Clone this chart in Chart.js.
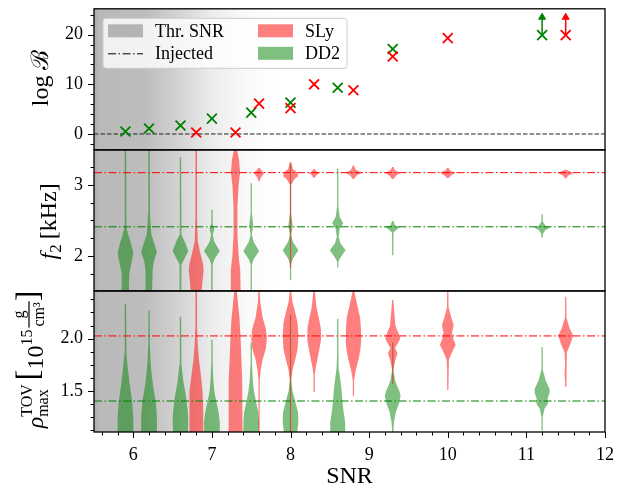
<!DOCTYPE html>
<html>
<head>
<meta charset="utf-8">
<script src="https://cdn.jsdelivr.net/npm/chart.js@4.4.1/dist/chart.umd.min.js"></script>
<style>
  html, body { margin: 0; padding: 0; background: #fff; }
  #wrap { width: 624px; height: 489px; }
</style>
</head>
<body>
<div id="wrap"><canvas id="snrChart" width="624" height="489"></canvas></div>
<script>
// ---- values ----
const snrSLy = [6.8, 7.3, 7.6, 8.0, 8.3, 8.8, 9.3, 10.0, 11.5];
const logBSLy = [0.3, 0.3, 6.1, 5.2, 10.0, 8.8, 15.6, 19.3, 19.9];
const snrDD2 = [5.9, 6.2, 6.6, 7.0, 7.5, 8.0, 8.6, 9.3, 11.2];
const logBDD2 = [0.5, 1.1, 1.7, 3.1, 4.3, 6.3, 9.3, 17.1, 19.9];

// runs where log B is only a lower bound (arrow up)
const limitSnr = [11.2, 11.5];
const limitFrom = [19.9, 19.9];
const limitTo = [23.5, 23.5];

// injected values [SLy, DD2]
const injectedF2 = [3.17, 2.41];
const injectedRho = [2.026, 1.404];

// posterior violins: value samples along the axis + relative half width
const f2SLy = [
  { snr: 6.8, v: [3.49, 2.5, 2.2, 2.05, 1.9, 1.8, 1.65, 1.51], w: [0.1, 0.12, 0.2, 0.5, 0.85, 0.95, 0.8, 0.7] },
  { snr: 7.3, v: [3.49, 3.35, 3.17, 3.0, 2.7, 2.3, 2.0, 1.8, 1.51], w: [0.2, 0.45, 0.58, 0.4, 0.25, 0.25, 0.4, 0.6, 0.65] },
  { snr: 7.6, v: [3.24, 3.2, 3.17, 3.14, 3.1, 3.05], w: [0.08, 0.3, 0.7, 0.5, 0.2, 0.08] },
  { snr: 8.0, v: [3.32, 3.22, 3.17, 3.12, 3.08, 3.0, 2.5, 2.0, 1.83], w: [0.08, 0.3, 0.9, 0.95, 0.5, 0.08, 0.08, 0.08, 0.08] },
  { snr: 8.3, v: [3.22, 3.19, 3.17, 3.14, 3.1], w: [0.08, 0.25, 0.75, 0.35, 0.08] },
  { snr: 8.8, v: [3.27, 3.21, 3.17, 3.13, 3.08], w: [0.08, 0.3, 1.0, 0.4, 0.08] },
  { snr: 9.3, v: [3.25, 3.2, 3.17, 3.13, 3.08], w: [0.08, 0.3, 1.0, 0.45, 0.08] },
  { snr: 10.0, v: [3.24, 3.2, 3.17, 3.13, 3.09], w: [0.08, 0.3, 1.0, 0.4, 0.08] },
  { snr: 11.5, v: [3.21, 3.18, 3.16, 3.13, 3.09], w: [0.08, 0.7, 0.9, 0.35, 0.08] }
];
const f2DD2 = [
  { snr: 5.9, v: [3.49, 2.6, 2.4, 2.3, 2.18, 2.04, 1.9, 1.76, 1.62, 1.51], w: [0.09, 0.1, 0.15, 0.35, 0.7, 1.0, 0.75, 0.5, 0.45, 0.45] },
  { snr: 6.2, v: [3.49, 2.6, 2.45, 2.3, 2.2, 2.06, 1.92, 1.8, 1.51], w: [0.09, 0.12, 0.2, 0.3, 0.6, 1.0, 0.6, 0.45, 0.4] },
  { snr: 6.6, v: [3.39, 2.6, 2.3, 2.2, 2.07, 1.95, 1.88, 1.51], w: [0.08, 0.1, 0.15, 0.55, 1.0, 0.45, 0.12, 0.1] },
  { snr: 7.0, v: [2.65, 2.45, 2.38, 2.3, 2.2, 2.07, 1.95, 1.88, 1.51], w: [0.08, 0.1, 0.3, 0.1, 0.3, 1.0, 0.3, 0.1, 0.08] },
  { snr: 7.5, v: [3.02, 2.6, 2.44, 2.3, 2.2, 2.07, 1.95, 1.88, 1.51], w: [0.08, 0.08, 0.25, 0.08, 0.3, 1.0, 0.3, 0.08, 0.08] },
  { snr: 8.0, v: [3.3, 2.6, 2.42, 2.3, 2.2, 2.08, 1.96, 1.88, 1.66], w: [0.08, 0.08, 0.28, 0.08, 0.3, 1.0, 0.3, 0.08, 0.08] },
  { snr: 8.6, v: [3.23, 2.7, 2.55, 2.46, 2.38, 2.27, 2.18, 2.08, 1.98, 1.92, 1.84], w: [0.08, 0.08, 0.25, 0.7, 0.25, 0.12, 0.35, 1.0, 0.35, 0.08, 0.08] },
  { snr: 9.3, v: [2.49, 2.43, 2.41, 2.38, 2.33, 2.2, 2.01], w: [0.08, 0.3, 1.0, 0.6, 0.1, 0.08, 0.08] },
  { snr: 11.2, v: [2.59, 2.48, 2.43, 2.4, 2.36, 2.31, 2.26], w: [0.08, 0.1, 0.4, 1.0, 0.4, 0.1, 0.08] }
];
const rhoSLy = [
  { snr: 6.8, v: [2.456, 2.1, 1.95, 1.8, 1.65, 1.5, 1.3, 1.108], w: [0.1, 0.12, 0.2, 0.35, 0.6, 0.8, 0.9, 0.9] },
  { snr: 7.3, v: [2.456, 2.35, 2.2, 2.0, 1.8, 1.6, 1.4, 1.108], w: [0.15, 0.3, 0.5, 0.65, 0.75, 0.85, 0.9, 0.9] },
  { snr: 7.6, v: [2.456, 2.35, 2.2, 2.1, 2.0, 1.9, 1.8, 1.7, 1.6, 1.108], w: [0.08, 0.15, 0.45, 0.85, 1.0, 0.85, 0.45, 0.2, 0.08, 0.08] },
  { snr: 8.0, v: [2.456, 2.35, 2.25, 2.15, 2.03, 1.9, 1.8, 1.7, 1.6, 1.108], w: [0.08, 0.25, 0.6, 0.9, 1.0, 0.9, 0.6, 0.25, 0.08, 0.08] },
  { snr: 8.3, v: [2.456, 2.3, 2.2, 2.1, 2.0, 1.85, 1.72, 1.65, 1.49], w: [0.1, 0.3, 0.6, 0.85, 0.9, 0.55, 0.2, 0.08, 0.08] },
  { snr: 8.8, v: [2.456, 2.35, 2.2, 2.1, 2.0, 1.9, 1.8, 1.7, 1.6, 1.45], w: [0.1, 0.4, 0.85, 0.95, 1.0, 0.9, 0.65, 0.3, 0.08, 0.08] },
  { snr: 9.3, v: [2.37, 2.25, 2.12, 2.05, 2.0, 1.95, 1.91, 1.86, 1.8, 1.7, 1.57], w: [0.08, 0.2, 0.35, 0.75, 0.95, 0.6, 0.3, 0.6, 0.35, 0.08, 0.08] },
  { snr: 10.0, v: [2.456, 2.3, 2.2, 2.13, 2.06, 2.0, 1.94, 1.88, 1.8, 1.7, 1.51], w: [0.08, 0.1, 0.45, 0.75, 0.55, 0.7, 1.0, 0.6, 0.15, 0.08, 0.08] },
  { snr: 11.5, v: [2.4, 2.2, 2.1, 2.03, 1.95, 1.87, 1.75, 1.65, 1.6, 1.54], w: [0.08, 0.1, 0.5, 0.95, 0.6, 0.15, 0.08, 0.15, 0.08, 0.08] }
];
const rhoDD2 = [
  { snr: 5.9, v: [2.33, 2.0, 1.85, 1.72, 1.56, 1.4, 1.24, 1.108], w: [0.08, 0.1, 0.15, 0.3, 0.55, 0.85, 1.0, 1.0] },
  { snr: 6.2, v: [2.27, 1.95, 1.8, 1.68, 1.53, 1.4, 1.26, 1.108], w: [0.08, 0.1, 0.18, 0.3, 0.55, 0.85, 1.0, 1.0] },
  { snr: 6.6, v: [2.21, 1.9, 1.75, 1.6, 1.45, 1.3, 1.2, 1.108], w: [0.08, 0.1, 0.15, 0.35, 0.7, 0.95, 1.0, 0.95] },
  { snr: 7.0, v: [1.99, 1.75, 1.6, 1.5, 1.4, 1.3, 1.2, 1.108], w: [0.08, 0.1, 0.18, 0.3, 0.55, 0.85, 1.0, 1.0] },
  { snr: 7.5, v: [1.96, 1.75, 1.6, 1.5, 1.4, 1.3, 1.2, 1.108], w: [0.08, 0.1, 0.2, 0.35, 0.6, 0.9, 1.0, 0.95] },
  { snr: 8.0, v: [2.23, 1.8, 1.6, 1.5, 1.4, 1.3, 1.2, 1.108], w: [0.08, 0.08, 0.1, 0.25, 0.6, 0.95, 1.0, 0.85] },
  { snr: 8.6, v: [2.19, 1.85, 1.72, 1.6, 1.5, 1.4, 1.3, 1.2, 1.108], w: [0.08, 0.08, 0.15, 0.35, 0.5, 0.6, 0.75, 0.95, 0.95] },
  { snr: 9.3, v: [1.96, 1.7, 1.6, 1.55, 1.5, 1.45, 1.38, 1.3, 1.2, 1.108], w: [0.08, 0.08, 0.3, 0.55, 0.85, 1.0, 0.8, 0.4, 0.15, 0.08] },
  { snr: 11.2, v: [1.92, 1.7, 1.6, 1.52, 1.48, 1.43, 1.38, 1.33, 1.25, 1.12], w: [0.08, 0.1, 0.45, 0.95, 0.95, 0.7, 0.75, 0.3, 0.08, 0.08] }
];

// axis ranges and tick steps
const X_MIN = 5.5, X_MAX = 12;
const LOGB_RANGE = [-3.2, 25.2];
const F2_RANGE = [1.51, 3.49];
const RHO_RANGE = [1.108, 2.456];
const MINOR = { x: 0.2, yB: 2, yF: 0.25, yR: 0.125 };

// ---- styling ----
const SERIF = '"Liberation Serif", "DejaVu Serif", serif';
const RED = 'red', GREEN = 'green';
const RED_FILL = 'rgba(255, 0, 0, 0.5)', GREEN_FILL = 'rgba(0, 128, 0, 0.5)';
const VIOLIN_HALF = 0.1; // SNR units for relative width 1
const DASH_DOT = [8, 2.5, 1.5, 2.5];
const THR_STOPS = [[5.5, '#acacac'], [5.57, '#b9b9b9'], [6.15, '#bdbdbd'], [6.6, '#d4d4d4'], [7.0, '#ececec'], [7.4, '#f9f9f9'], [7.8, '#ffffff']];

function violinDataset(vl, axis, fill, order) {
  const pts = [];
  for (let i = 0; i < vl.v.length; i++) pts.push({ x: vl.snr + vl.w[i] * VIOLIN_HALF, y: vl.v[i] });
  for (let i = vl.v.length - 1; i >= 0; i--) pts.push({ x: vl.snr - vl.w[i] * VIOLIN_HALF, y: vl.v[i] });
  return {
    data: pts, yAxisID: axis, showLine: true, fill: 'shape',
    backgroundColor: fill, borderColor: 'transparent', borderWidth: 0,
    pointRadius: 0, tension: 0, order: order
  };
}

function hLine(y, axis, color, dash, order) {
  return {
    data: [{ x: X_MIN, y: y }, { x: X_MAX, y: y }], yAxisID: axis, showLine: true,
    borderColor: color, borderWidth: 1, borderDash: dash, pointRadius: 0, order: order
  };
}

const datasets = [];
datasets.push({
  data: snrDD2.map((x, i) => ({ x: x, y: logBDD2[i] })), yAxisID: 'yB',
  pointStyle: 'crossRot', pointRadius: 7, pointBorderWidth: 1.8, borderColor: GREEN, order: 1
});
datasets.push({
  data: snrSLy.map((x, i) => ({ x: x, y: logBSLy[i] })), yAxisID: 'yB',
  pointStyle: 'crossRot', pointRadius: 7, pointBorderWidth: 1.8, borderColor: RED, order: 0
});
limitSnr.forEach((x, i) => {
  const c = i === 0 ? GREEN : RED;
  datasets.push({
    data: [{ x: x, y: limitFrom[i] }, { x: x, y: limitTo[i] }], yAxisID: 'yB', showLine: true,
    borderColor: c, borderWidth: 1.5, backgroundColor: c, pointStyle: 'triangle',
    pointRadius: [0, 4], pointBorderWidth: 1, order: 0
  });
});
datasets.push(hLine(0, 'yB', '#222', [4.5, 2], 2));
datasets.push(hLine(injectedF2[0], 'yF', RED, DASH_DOT, 2));
datasets.push(hLine(injectedF2[1], 'yF', GREEN, DASH_DOT, 2));
datasets.push(hLine(injectedRho[0], 'yR', RED, DASH_DOT, 2));
datasets.push(hLine(injectedRho[1], 'yR', GREEN, DASH_DOT, 2));
f2DD2.forEach(v => datasets.push(violinDataset(v, 'yF', GREEN_FILL, 4)));
f2SLy.forEach(v => datasets.push(violinDataset(v, 'yF', RED_FILL, 3)));
rhoDD2.forEach(v => datasets.push(violinDataset(v, 'yR', GREEN_FILL, 4)));
rhoSLy.forEach(v => datasets.push(violinDataset(v, 'yR', RED_FILL, 3)));

// gray "threshold SNR" band behind all three panels
const thresholdBand = {
  id: 'thresholdBand',
  beforeDatasetsDraw(chart) {
    const { ctx, chartArea: a, scales: { x } } = chart;
    const x0 = x.getPixelForValue(THR_STOPS[0][0]);
    const x1 = x.getPixelForValue(THR_STOPS[THR_STOPS.length - 1][0]);
    const g = ctx.createLinearGradient(x0, 0, x1, 0);
    THR_STOPS.forEach(s => g.addColorStop((x.getPixelForValue(s[0]) - x0) / (x1 - x0), s[1]));
    ctx.save();
    ctx.fillStyle = g;
    ctx.fillRect(a.left, a.top, x1 - a.left, a.bottom - a.top);
    ctx.restore();
  }
};

// frames, major + minor ticks, matplotlib style
const frameTicks = {
  id: 'frameTicks',
  afterDraw(chart) {
    const { ctx, chartArea: a } = chart;
    ctx.save();
    ctx.strokeStyle = '#000';
    ctx.lineWidth = 1;
    const tick = (x0, y0, x1, y1) => { ctx.beginPath(); ctx.moveTo(x0, y0); ctx.lineTo(x1, y1); ctx.stroke(); };
    ['yB', 'yF', 'yR'].forEach(id => {
      const s = chart.scales[id];
      const step = MINOR[id];
      for (let k = Math.ceil(s.min / step - 1e-9); k * step <= s.max + 1e-9; k++) {
        const v = k * step;
        const major = s.ticks.some(t => Math.abs(t.value - v) < 1e-6);
        const y = Math.round(s.getPixelForValue(v)) + 0.5;
        tick(a.left - (major ? 6 : 3.5), y, a.left, y);
      }
    });
    const sx = chart.scales.x;
    for (let k = Math.ceil(sx.min / MINOR.x - 1e-9); k * MINOR.x <= sx.max + 1e-9; k++) {
      const v = k * MINOR.x;
      const major = sx.ticks.some(t => Math.abs(t.value - v) < 1e-6);
      const x = Math.round(sx.getPixelForValue(v)) + 0.5;
      tick(x, a.bottom, x, a.bottom + (major ? 6 : 3.5));
    }
    ctx.lineWidth = 1.3;
    ['yB', 'yF', 'yR'].forEach(id => {
      const s = chart.scales[id];
      ctx.strokeRect(a.left, s.top, a.right - a.left, s.bottom - s.top);
    });
    ctx.restore();
  }
};

// legend box inside the top panel
const boxLegend = {
  id: 'boxLegend',
  afterDatasetsDraw(chart) {
    const { ctx, chartArea: a } = chart;
    const L = a.left + 9, T = a.top + 9.5;
    ctx.save();
    ctx.fillStyle = 'rgba(255,255,255,0.8)';
    ctx.strokeStyle = '#cccccc';
    ctx.lineWidth = 1;
    ctx.beginPath();
    ctx.roundRect(L, T, 244, 50, 3);
    ctx.fill();
    ctx.stroke();
    ctx.font = '18px ' + SERIF;
    ctx.fillStyle = '#000';
    ctx.textBaseline = 'middle';
    const rows = [T + 12.5, T + 35];
    ctx.fillStyle = '#b4b4b4';
    ctx.fillRect(L + 5, rows[0] - 6.5, 35, 13);
    ctx.fillStyle = RED_FILL;
    ctx.fillRect(L + 155, rows[0] - 6.5, 35, 13);
    ctx.fillStyle = GREEN_FILL;
    ctx.fillRect(L + 155, rows[1] - 6.5, 35, 13);
    ctx.strokeStyle = '#000';
    ctx.setLineDash(DASH_DOT);
    ctx.beginPath();
    ctx.moveTo(L + 5, rows[1] + 0.5);
    ctx.lineTo(L + 40, rows[1] + 0.5);
    ctx.stroke();
    ctx.setLineDash([]);
    ctx.fillStyle = '#000';
    ctx.fillText('Thr. SNR', L + 52, rows[0] + 1);
    ctx.fillText('Injected', L + 52, rows[1] + 1);
    ctx.fillText('SLy', L + 202, rows[0] + 1);
    ctx.fillText('DD2', L + 202, rows[1] + 1);
    ctx.restore();
  }
};

// rotated y labels with sub/superscripts
function fontOf(p) { return (p.it ? 'italic ' : '') + p.size + 'px ' + SERIF; }
function runParts(ctx, parts, draw) {
  let pen = 0;
  for (const p of parts) {
    if (p.gap) { pen += p.gap; continue; }
    ctx.font = fontOf(p);
    if (p.sup !== undefined) {
      const w1 = ctx.measureText(p.sup).width, w2 = ctx.measureText(p.sub).width;
      if (draw) { ctx.fillText(p.sup, pen, p.up); ctx.fillText(p.sub, pen, p.down); }
      pen += Math.max(w1, w2);
    } else if (p.num !== undefined) {
      const wn = ctx.measureText(p.num).width, wd = ctx.measureText(p.den).width;
      const w = Math.max(wn, wd) + 2;
      if (draw) {
        ctx.fillText(p.num, pen + (w - wn) / 2, p.numDy);
        ctx.fillText(p.den, pen + (w - wd) / 2, p.denDy);
        ctx.fillRect(pen, p.barDy - 0.6, w, 1.2);
      }
      pen += w;
    } else {
      if (draw) ctx.fillText(p.t, pen, p.dy || 0);
      pen += ctx.measureText(p.t).width;
    }
  }
  return pen;
}
function verticalLabel(ctx, parts, baseX, centerY) {
  ctx.save();
  ctx.translate(baseX, centerY);
  ctx.rotate(-Math.PI / 2);
  ctx.textBaseline = 'alphabetic';
  ctx.textAlign = 'left';
  ctx.fillStyle = '#000';
  const total = runParts(ctx, parts, false);
  ctx.translate(-total / 2, 0);
  runParts(ctx, parts, true);
  ctx.restore();
}
const axisLabels = {
  id: 'axisLabels',
  afterDraw(chart) {
    const { ctx, scales } = chart;
    const mid = s => (s.top + s.bottom) / 2;
    verticalLabel(ctx, [{ t: 'log', size: 24 }, { gap: 5 }, { t: 'ℬ', size: 24 }], 48, mid(scales.yB) - 1);
    verticalLabel(ctx, [{ t: 'f', size: 24, it: true }, { t: '2', size: 17, dy: 5 }, { gap: 5 }, { t: '[kHz]', size: 24 }], 56, mid(scales.yF) + 1);
    verticalLabel(ctx, [
      { t: 'ρ', size: 24, it: true },
      { sup: 'TOV', sub: 'max', size: 16, up: -11, down: 5 },
      { gap: 4 },
      { t: '[', size: 32, dy: -5 },
      { t: '10', size: 24 },
      { t: '15', size: 16, dy: -11 },
      { gap: 2 },
      { num: 'g', den: 'cm³', size: 16, numDy: -19, denDy: 1, barDy: -14 },
      { t: ']', size: 32, dy: -5 }
    ], 43, mid(scales.yR) - 2);
  }
};

const tickFont = { family: SERIF, size: 18 };
const yAxis = (range, step, fmt) => ({
  type: 'linear', position: 'left', stack: 'panels', stackWeight: 1,
  min: range[0], max: range[1],
  grid: { display: false, drawTicks: false },
  border: { display: false },
  ticks: { stepSize: step, includeBounds: false, font: tickFont, color: '#000', padding: 11, callback: fmt },
  afterFit(s) { s.width = 94; s.paddingTop = 0; s.paddingBottom = 0; }
});

new Chart(document.getElementById('snrChart'), {
  type: 'scatter',
  data: { datasets: datasets },
  options: {
    responsive: false,
    animation: false,
    layout: { padding: { left: 0, right: 19, top: 7.5, bottom: 0 } },
    plugins: { legend: { display: false }, tooltip: { enabled: false } },
    scales: {
      x: {
        type: 'linear', min: X_MIN, max: X_MAX,
        grid: { display: false, drawTicks: false },
        border: { display: false },
        ticks: { stepSize: 1, includeBounds: false, font: tickFont, color: '#000', padding: 12 },
        title: { display: true, text: 'SNR', color: '#000', font: { family: SERIF, size: 24, lineHeight: 1 }, padding: 0 },
        afterFit(s) { s.height = 57; s.paddingLeft = 0; s.paddingRight = 0; }
      },
      // stacked bottom-to-top: rho, f2, log B
      yR: yAxis(RHO_RANGE, 0.5, v => v.toFixed(1)),
      yF: yAxis(F2_RANGE, 1, v => v.toFixed(0)),
      yB: yAxis(LOGB_RANGE, 10, v => v.toFixed(0))
    }
  },
  plugins: [thresholdBand, frameTicks, boxLegend, axisLabels]
});
</script>
</body>
</html>
